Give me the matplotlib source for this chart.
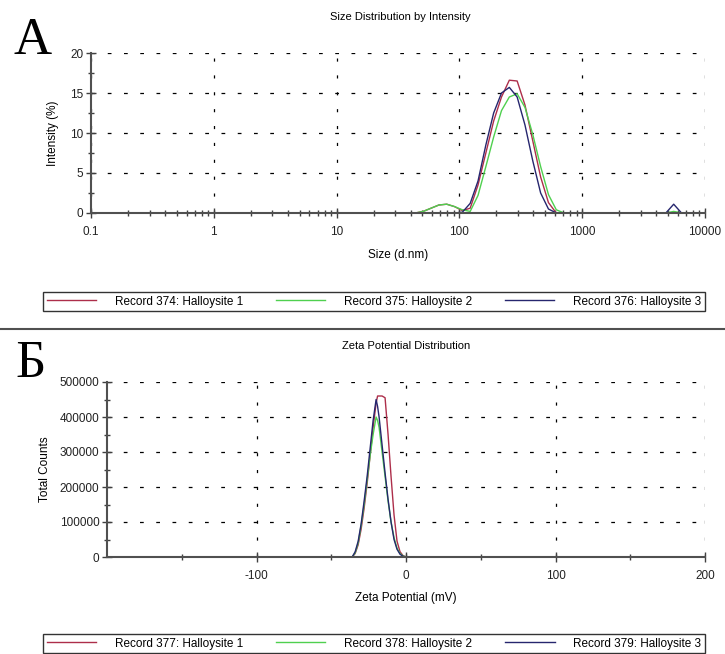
import matplotlib.pyplot as plt
from matplotlib.lines import Line2D

plt.rcParams["font.family"] = ["Liberation Sans", "DejaVu Sans"]
plt.rcParams["axes.unicode_minus"] = False

# --- panel A: size distribution by intensity ---
sizes = [0.1, 32.67, 37.84, 43.82, 50.75, 58.77, 68.06, 78.82, 91.28, 105.7,
         122.4, 141.8, 164.2, 190.1, 220.2, 255.0, 295.3, 342.0, 396.1, 458.7,
         531.2, 615.1, 712.4, 825.0, 955.4, 1106, 1281, 1484, 1718, 1990,
         2305, 2669, 3091, 3580, 4145, 4801, 5560, 6439, 7456, 8635, 10000]
rec374 = [0, 0, 0, 0, 0.2, 0.6, 1.0, 1.1, 0.8, 0.3,
          0.6, 3.5, 7.5, 11.5, 14.5, 16.6, 16.5, 13.5, 9.0, 4.5,
          1.3, 0, 0, 0, 0, 0, 0, 0, 0, 0,
          0, 0, 0, 0, 0, 0, 0, 0, 0, 0, 0]
rec375 = [0, 0, 0, 0, 0.2, 0.6, 1.0, 1.1, 0.8, 0.4,
          0.2, 2.2, 5.8, 9.5, 12.8, 14.5, 14.9, 13.2, 9.8, 5.8,
          2.3, 0.4, 0, 0, 0, 0, 0, 0, 0, 0,
          0, 0, 0, 0, 0, 0, 0.2, 0, 0, 0, 0]
rec376 = [0, 0, 0, 0, 0, 0, 0, 0, 0, 0.1,
          1.2, 4.0, 8.5, 12.5, 15.0, 15.7, 14.5, 11.0, 6.5, 2.5,
          0.5, 0, 0, 0, 0, 0, 0, 0, 0, 0,
          0, 0, 0, 0, 0, 0, 1.1, 0, 0, 0, 0]
size_labels = ["Record 374: Halloysite 1", "Record 375: Halloysite 2",
               "Record 376: Halloysite 3"]

# --- panel B: zeta potential distribution ---
zeta = [-200, -40, -38, -36, -34, -32, -30, -28, -26, -24, -22, -20, -19,
        -18, -16, -14, -12, -10, -8, -6, -4, -2, 0, 200]
rec377 = [0, 0, 0, 0, 10000, 35000, 80000, 140000, 210000, 290000, 370000,
          440000, 460000, 460000, 460000, 455000, 350000, 230000, 120000,
          45000, 15000, 4000, 0, 0]
rec378 = [0, 0, 0, 0, 12000, 40000, 90000, 150000, 220000, 290000, 350000,
          400000, 390000, 370000, 300000, 230000, 160000, 100000, 55000,
          25000, 10000, 3000, 0, 0]
rec379 = [0, 0, 0, 0, 15000, 45000, 95000, 160000, 230000, 310000, 390000,
          450000, 430000, 400000, 320000, 240000, 165000, 100000, 50000,
          22000, 8000, 2000, 0, 0]
zeta_labels = ["Record 377: Halloysite 1", "Record 378: Halloysite 2",
               "Record 379: Halloysite 3"]

colors = ["#ad2e4a", "#4fd04f", "#26266e"]
W, H = 725, 654


def style_axes(ax):
    for side in ["top", "right"]:
        ax.spines[side].set_visible(False)
    for side in ["left", "bottom"]:
        ax.spines[side].set_color("#505050")
        ax.spines[side].set_linewidth(1.5)
    ax.tick_params(which="major", direction="inout", length=7, width=1,
                   color="#404040", labelsize=8.5, labelcolor="#222222")
    ax.tick_params(which="minor", direction="inout", length=5, width=1,
                   color="#404040")
    ax.tick_params(axis="x", pad=6)
    ax.tick_params(axis="y", pad=2)
    ax.grid(True, which="major", axis="y", color="black", lw=0.9,
            ls=(0, (3, 10)))
    ax.grid(True, which="major", axis="x", color="black", lw=0.9,
            ls=(0, (2.5, 11)))


def add_legend(labels, top_px):
    handles = [Line2D([], [], color=c, lw=1) for c in colors]
    fig.legend(handles, labels, ncol=3, loc="upper left",
               bbox_to_anchor=(43 / W, 1 - top_px / H, 662 / W, 0.0),
               mode="expand", fontsize=8.5, frameon=True, fancybox=False,
               edgecolor="black", handlelength=4.2, borderpad=0.3,
               handletextpad=1.6, borderaxespad=0)


fig = plt.figure(figsize=(W / 100, H / 100), dpi=100)

# panel A
ax1 = fig.add_axes([91 / W, 1 - 213 / H, 614 / W, 160 / H])
for y, c in zip([rec374, rec375, rec376], colors):
    ax1.plot(sizes, y, color=c, lw=1)
ax1.set_xscale("log")
ax1.set_xlim(0.1, 10000)
ax1.set_ylim(0, 20)
ax1.set_yticks([0, 5, 10, 15, 20])
ax1.set_yticks([2.5, 7.5, 12.5, 17.5], minor=True)
ax1.set_xticks([0.1, 1, 10, 100, 1000, 10000])
ax1.set_xticklabels(["0.1", "1", "10", "100", "1000", "10000"])
style_axes(ax1)
ax1.set_xlabel("Size (d.nm)", fontsize=8.5, labelpad=8)
ax1.set_ylabel("Intensity (%)", fontsize=8.5, labelpad=8)
fig.text(400 / W, 1 - 17 / H, "Size Distribution by Intensity",
         ha="center", va="center", fontsize=8)
fig.text(13 / W, 1 - 17 / H, "A", ha="left", va="top", fontsize=38,
         family="Liberation Serif")
add_legend(size_labels, 292)

# separator between panels
fig.add_artist(Line2D([0, 1], [1 - 329 / H, 1 - 329 / H],
                      transform=fig.transFigure, color="#505050", lw=1.5))

# panel B
ax2 = fig.add_axes([107 / W, 1 - 557 / H, 598 / W, 175 / H])
for y, c in zip([rec377, rec378, rec379], colors):
    ax2.plot(zeta, y, color=c, lw=1)
ax2.set_xlim(-200, 200)
ax2.set_ylim(0, 500000)
ax2.set_xticks([-100, 0, 100, 200])
ax2.set_xticks([-150, -50, 50, 150], minor=True)
ax2.set_yticks([0, 100000, 200000, 300000, 400000, 500000])
ax2.set_yticks([50000, 150000, 250000, 350000, 450000], minor=True)
ax2.set_yticklabels(["0", "100000", "200000", "300000", "400000", "500000"])
style_axes(ax2)
ax2.set_xlabel("Zeta Potential (mV)", fontsize=8.5, labelpad=7)
ax2.set_ylabel("Total Counts", fontsize=8.5, labelpad=6)
fig.text(406 / W, 1 - 346 / H, "Zeta Potential Distribution",
         ha="center", va="center", fontsize=8)
fig.text(15 / W, 1 - 340 / H, "Б", ha="left", va="top", fontsize=38,
         family="Liberation Serif")
add_legend(zeta_labels, 634)

fig.savefig("out.png", dpi=100)
